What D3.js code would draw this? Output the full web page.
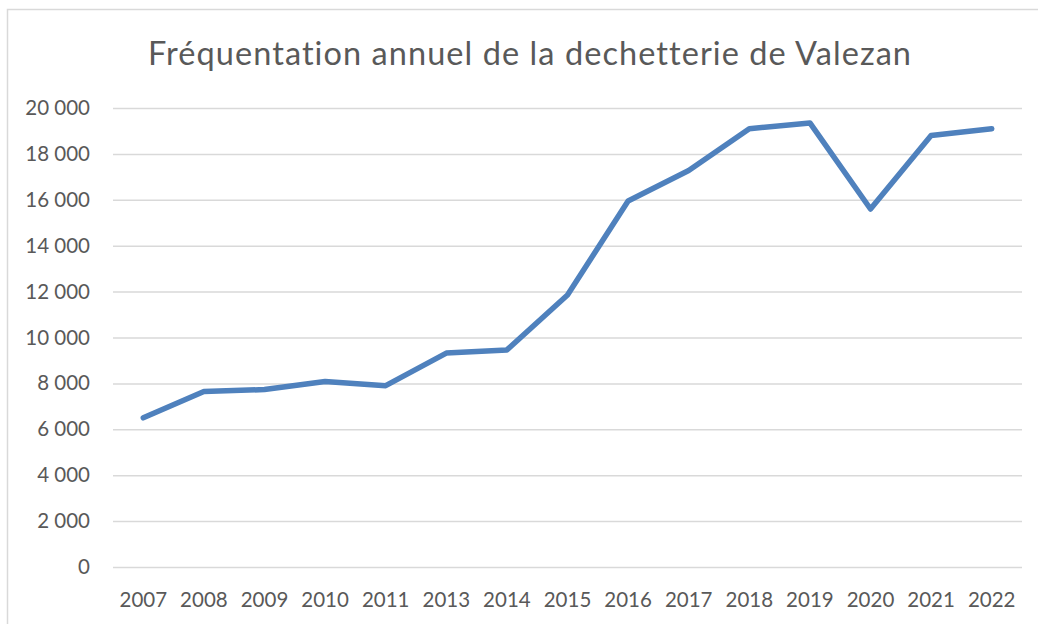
<!DOCTYPE html>
<html><head><meta charset="utf-8">
<script src="https://cdn.jsdelivr.net/npm/d3@7"></script>
<style>body{margin:0;background:#fff}svg{display:block}text{font-variant-ligatures:none}</style>
</head><body>
<script>
const years = ["2007","2008","2009","2010","2011","2013","2014","2015","2016","2017","2018","2019","2020","2021","2022"];
const visits = [6500,7650,7730,8080,7900,9320,9460,11850,15950,17280,19100,19350,15600,18800,19100];
const yTicks = [0,2000,4000,6000,8000,10000,12000,14000,16000,18000,20000];
const title = "Fréquentation annuel de la dechetterie de Valezan";

const W=1038,H=624;
const svg=d3.select("body").append("svg").attr("width",W).attr("height",H);
const font="Lato, 'Open Sans', sans-serif";
svg.append("rect").attr("x",7.5).attr("y",9.5).attr("width",1040).attr("height",630)
  .attr("fill","#fff").attr("stroke","#d9d9d9").attr("stroke-width",1.5);

const L=113,R=1022,T=108,B=567;
const x=d3.scaleBand().domain(years).range([L,R]);
const y=d3.scaleLinear().domain([0,20000]).range([B,T]);
const fmt=v=>d3.format(",")(v).replace(/,/g," ");

const ya=svg.append("g").attr("transform",`translate(${L},0)`)
  .call(d3.axisLeft(y).tickValues(yTicks).tickSize(-(R-L)).tickPadding(23).tickFormat(fmt));
ya.select(".domain").remove();
ya.selectAll(".tick line").attr("stroke","#d9d9d9").attr("stroke-width",1.5);
ya.selectAll(".tick text").attr("fill","#595959").style("font-family",font).style("font-size","20.5px");

const xa=svg.append("g").attr("transform",`translate(0,${B})`)
  .call(d3.axisBottom(x).tickSize(0).tickPadding(25));
xa.select(".domain").remove();
xa.selectAll(".tick text").attr("fill","#595959").style("font-family",font).style("font-size","20.5px");

svg.append("path").datum(visits)
  .attr("d",d3.line().x((d,i)=>x(years[i])+x.bandwidth()/2).y(d=>y(d)))
  .attr("fill","none").attr("stroke","#4f81bd").attr("stroke-width",5.5)
  .attr("stroke-linecap","round").attr("stroke-linejoin","round");

svg.append("text").attr("x",148).attr("y",65)
  .attr("textLength",763).attr("lengthAdjust","spacing")
  .attr("fill","#595959").style("font-family",font).style("font-size","32.5px").text(title);
</script>
</body></html>
